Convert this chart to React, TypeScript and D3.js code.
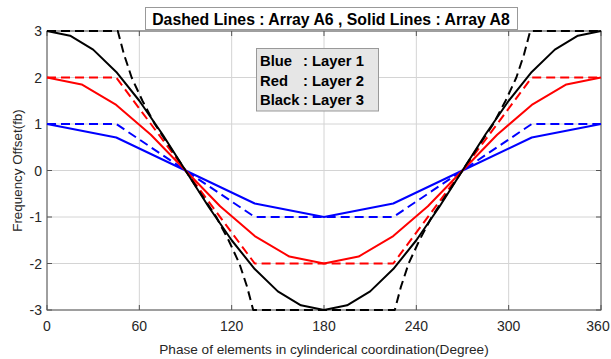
import React from "react";
import * as d3 from "d3";

const W = 611;
const H = 359;
const M = { left: 47, right: 601, top: 31, bottom: 310 };

const xTicks = [0, 60, 120, 180, 240, 300, 360];
const yTicks = [-3, -2, -1, 0, 1, 2, 3];

// Solid lines: Array A8
const blueSolidX = [0, 45, 90, 135, 180, 225, 270, 315, 360];
const blueSolidY = [1, 0.71, 0, -0.71, -1, -0.71, 0, 0.71, 1];

const redSolidX = [0, 22.5, 45, 67.5, 90, 112.5, 135, 157.5, 180, 202.5, 225, 247.5, 270, 292.5, 315, 337.5, 360];
const redSolidY = [2, 1.85, 1.41, 0.77, 0, -0.77, -1.41, -1.85, -2, -1.85, -1.41, -0.77, 0, 0.77, 1.41, 1.85, 2];

const blackSolidX = [0, 15, 30, 45, 60, 75, 90, 105, 120, 135, 150, 165, 180, 195, 210, 225, 240, 255, 270, 285, 300, 315, 330, 345, 360];
const blackSolidY = [3, 2.9, 2.6, 2.12, 1.5, 0.78, 0, -0.78, -1.5, -2.12, -2.6, -2.9, -3, -2.9, -2.6, -2.12, -1.5, -0.78, 0, 0.78, 1.5, 2.12, 2.6, 2.9, 3];

// Dashed lines: Array A6
const blueDashX = [0, 45, 90, 135, 225, 270, 315, 360];
const blueDashY = [1, 1, 0, -1, -1, 0, 1, 1];

const redDashX = [0, 45, 90, 135, 225, 270, 315, 360];
const redDashY = [2, 2, 0, -2, -2, 0, 2, 2];

const blackDashX = [0, 46, 50, 55, 62, 70, 80, 90, 100, 110, 118, 125, 130, 134, 226, 230, 235, 242, 250, 260, 270, 280, 290, 298, 305, 310, 314, 360];
const blackDashY = [3, 3, 2.5, 2, 1.5, 1, 0.5, 0, -0.5, -1, -1.5, -2, -2.5, -3, -3, -2.5, -2, -1.5, -1, -0.5, 0, 0.5, 1, 1.5, 2, 2.5, 3, 3];

const legendNames = ["Blue", "Red", "Black"];
const legendLayers = [": Layer 1", ": Layer 2", ": Layer 3"];

const titleText = "Dashed Lines : Array A6 , Solid Lines : Array A8";
const xLabel = "Phase of elements in cylinderical coordination(Degree)";
const yLabel = "Frequency Offset(fb)";

export default function App() {
  const x = d3.scaleLinear().domain([0, 360]).range([M.left, M.right]);
  const y = d3.scaleLinear().domain([-3, 3]).range([M.bottom, M.top]);
  const line = d3
    .line<[number, number]>()
    .x((d) => x(d[0]))
    .y((d) => y(d[1]));
  const mk = (xs: number[], ys: number[]) => line(xs.map((v, i) => [v, ys[i]]) as [number, number][]) || "";

  const series = [
    { xs: blueDashX, ys: blueDashY, c: "#0000ff", dash: "9,5" },
    { xs: redDashX, ys: redDashY, c: "#ff0000", dash: "9,5" },
    { xs: blackDashX, ys: blackDashY, c: "#000000", dash: "9,5" },
    { xs: blueSolidX, ys: blueSolidY, c: "#0000ff", dash: undefined },
    { xs: redSolidX, ys: redSolidY, c: "#ff0000", dash: undefined },
    { xs: blackSolidX, ys: blackSolidY, c: "#000000", dash: undefined },
  ];

  const font = "Arial, 'Liberation Sans', sans-serif";
  const tc = "#262626";

  return (
    <svg width={W} height={H} style={{ position: "absolute", left: 0, top: 0, background: "#fff" }} fontFamily={font}>
      <rect x={0} y={0} width={W} height={H} fill="#fff" />
      {/* grid */}
      {xTicks.map((t) => (
        <line key={"gx" + t} x1={x(t)} x2={x(t)} y1={M.top} y2={M.bottom} stroke="#d4d4d4" strokeWidth={1} />
      ))}
      {yTicks.map((t) => (
        <line key={"gy" + t} x1={M.left} x2={M.right} y1={y(t)} y2={y(t)} stroke="#d4d4d4" strokeWidth={1} />
      ))}
      {/* ticks */}
      {xTicks.map((t) => (
        <g key={"tx" + t}>
          <line x1={x(t)} x2={x(t)} y1={M.bottom} y2={M.bottom - 5} stroke="#555" />
          <line x1={x(t)} x2={x(t)} y1={M.top} y2={M.top + 5} stroke="#555" />
          <text x={Math.min(x(t), W - 13)} y={M.bottom + 21} textAnchor="middle" fontSize={14} fill={tc}>
            {t}
          </text>
        </g>
      ))}
      {yTicks.map((t) => (
        <g key={"ty" + t}>
          <line x1={M.left} x2={M.left + 5} y1={y(t)} y2={y(t)} stroke="#555" />
          <line x1={M.right} x2={M.right - 5} y1={y(t)} y2={y(t)} stroke="#555" />
          <text x={M.left - 5} y={y(t) + 5} textAnchor="end" fontSize={14} fill={tc}>
            {t < 0 ? "-" + Math.abs(t) : String(t)}
          </text>
        </g>
      ))}
      {/* box */}
      <rect x={M.left} y={M.top} width={M.right - M.left} height={M.bottom - M.top} fill="none" stroke="#555" strokeWidth={1} />
      {/* lines */}
      {series.map((s, i) => (
        <path key={i} d={mk(s.xs, s.ys)} fill="none" stroke={s.c} strokeWidth={2} strokeDasharray={s.dash} strokeLinejoin="round" />
      ))}
      {/* title box */}
      <rect x={145.5} y={7.5} width={372} height={22} fill="#fff" stroke="#999" strokeWidth={1} />
      <text x={331} y={24.5} textAnchor="middle" fontSize={15.8} fontWeight="bold" fill="#000">
        {titleText}
      </text>
      {/* legend box */}
      <rect x={256.5} y={48.5} width={122} height={62.5} fill="#e6e6e6" stroke="#999" strokeWidth={1} />
      {legendNames.map((n, i) => (
        <g key={n}>
          <text x={260} y={66 + i * 19.5} fontSize={14.8} fontWeight="bold" fill="#000">
            {n}
          </text>
          <text x={303} y={66 + i * 19.5} fontSize={14.8} fontWeight="bold" fill="#000">
            {legendLayers[i]}
          </text>
        </g>
      ))}
      {/* axis labels */}
      <text x={(M.left + M.right) / 2} y={354} textAnchor="middle" fontSize={13.6} fill={tc}>
        {xLabel}
      </text>
      <text transform={`translate(22,${(M.top + M.bottom) / 2}) rotate(-90)`} textAnchor="middle" fontSize={13.4} fill={tc}>
        {yLabel}
      </text>
    </svg>
  );
}
